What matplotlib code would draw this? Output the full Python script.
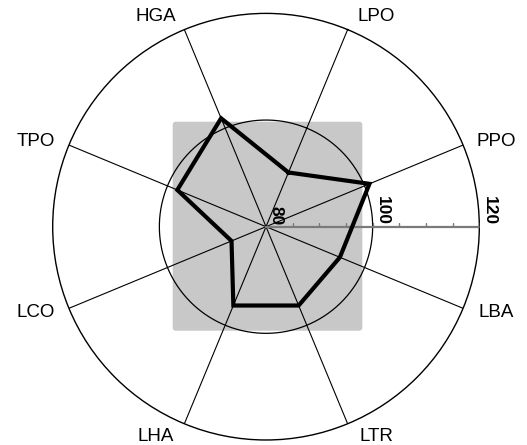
import numpy as np
import matplotlib
matplotlib.use("Agg")
import matplotlib.pyplot as plt
from matplotlib.patches import FancyBboxPatch
from matplotlib.markers import TICKUP

plt.rcParams['font.family'] = ['Liberation Sans', 'DejaVu Sans']

# data (clockwise from top-right)
categories = ["LPO", "PPO", "LBA", "LTR", "LHA", "LCO", "TPO", "HGA"]
values = [91, 101, 95, 96, 96, 87, 98, 102]
r_ticks = [85, 90, 95, 100, 105, 110, 115, 120]
r_labels = [80, 100, 120]
r_min, r_max = 80, 120

fig = plt.figure(figsize=(5.27, 4.45), dpi=100)
ax = fig.add_axes([0.1, 0.01124, 0.8095, 0.9587], projection='polar')
ax.set_theta_direction(-1)
ax.set_theta_offset(np.radians(67.5))
ax.set_ylim(r_min, r_max)
ax.grid(False)
ax.set_xticks([])
ax.set_yticks([])
ax.patch.set_facecolor('none')
ax.spines['polar'].set_linewidth(1.0)

# gray box behind the plot
box = FancyBboxPatch((1.727, 1.143), 1.896, 2.09,
                     boxstyle='round,pad=0,rounding_size=0.03',
                     transform=fig.dpi_scale_trans, fc='#c8c8c8', ec='none', zorder=-1)
fig.add_artist(box)

n = len(categories)
theta = np.arange(n) * 2 * np.pi / n

# spokes
for t in theta:
    ax.plot([t, t], [r_min, r_max], color='black', lw=0.8, zorder=2)

# inner ring at 100
ring = np.linspace(0, 2 * np.pi, 400)
ax.plot(ring, np.full_like(ring, 100), color='black', lw=0.9, zorder=2)

# radial axis along the horizontal
a0 = np.radians(67.5)
ax.plot([a0, a0], [r_min, r_max], color='#7a7a7a', lw=1.6, zorder=3)
ax.plot([a0] * len(r_ticks), r_ticks, ls='none', marker=TICKUP, ms=3,
        mec='#7a7a7a', mew=1, zorder=3)
for r in r_labels:
    ax.annotate(str(r), xy=(a0, r), xytext=(1.5, 1.2), textcoords='offset points',
                rotation=-90, ha='left', va='bottom', fontsize=12.5,
                fontweight='bold', zorder=5, annotation_clip=False)

# the profile
ax.plot(np.append(theta, theta[0]), values + values[:1], color='black', lw=3,
        solid_joinstyle='miter', zorder=4)

# category labels
for t, name in zip(theta, categories):
    a = np.radians(67.5) - t   # screen angle of the spoke
    s, c = np.sin(a), np.cos(a)
    if abs(s) > 0.7:
        dx, dy = 110, 210
    else:
        dx, dy = 230, 85.5
    ax.annotate(name, xy=(0, r_min), xytext=(np.sign(c) * dx, np.sign(s) * dy),
                textcoords='offset pixels', ha='center', va='center',
                fontsize=13.5, annotation_clip=False)

fig.savefig('out.png', dpi=100)
